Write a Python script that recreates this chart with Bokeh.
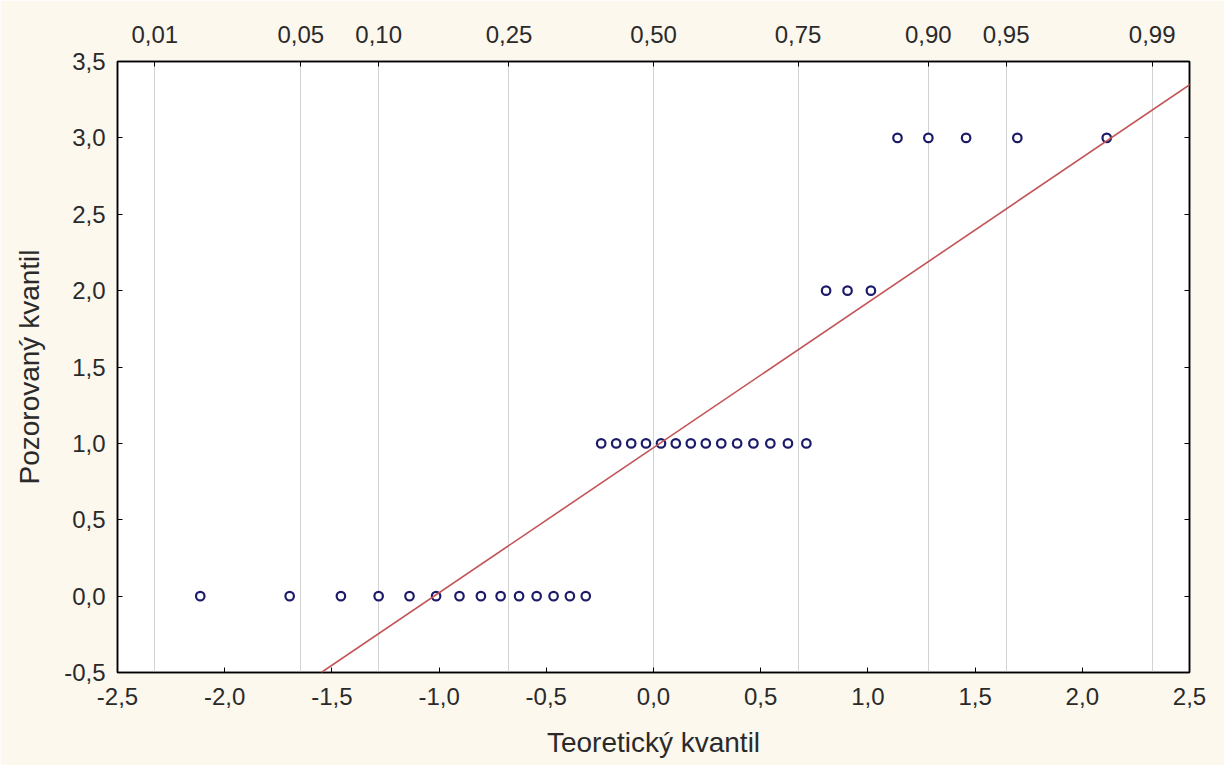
from bokeh.plotting import figure
from bokeh.models import (ColumnDataSource, LinearAxis, FixedTicker,
                          CustomJSTickFormatter, Slope, Range1d)
from bokeh.embed import file_html
from bokeh.resources import INLINE

# ---- data ----
theoretical = [-2.114, -1.697, -1.458, -1.282, -1.138, -1.014, -0.905, -0.805,
               -0.713, -0.627, -0.545, -0.466, -0.390, -0.316,
               -0.244, -0.174, -0.104, -0.035, 0.035, 0.104, 0.174, 0.244,
               0.316, 0.390, 0.466, 0.545, 0.627, 0.713,
               0.805, 0.905, 1.014,
               1.138, 1.282, 1.458, 1.697, 2.114]
observed = [0, 0, 0, 0, 0, 0, 0, 0, 0, 0, 0, 0, 0, 0,
            1, 1, 1, 1, 1, 1, 1, 1, 1, 1, 1, 1, 1, 1,
            2, 2, 2,
            3, 3, 3, 3, 3]

fit_intercept = 0.972
fit_slope = 0.95

x_ticks = [-2.5, -2.0, -1.5, -1.0, -0.5, 0.0, 0.5, 1.0, 1.5, 2.0, 2.5]
x_tick_labels = ["-2,5", "-2,0", "-1,5", "-1,0", "-0,5", "0,0", "0,5", "1,0", "1,5", "2,0", "2,5"]
y_ticks = [-0.5, 0.0, 0.5, 1.0, 1.5, 2.0, 2.5, 3.0, 3.5]
y_tick_labels = ["-0,5", "0,0", "0,5", "1,0", "1,5", "2,0", "2,5", "3,0", "3,5"]
prob_z = [-2.326, -1.645, -1.282, -0.674, 0.0, 0.674, 1.282, 1.645, 2.326]
prob_labels = ["0,01", "0,05", "0,10", "0,25", "0,50", "0,75", "0,90", "0,95", "0,99"]

FONT = "Liberation Sans"
TXT = "#2a2a2a"
BG = "#fcf8ee"

def lookup_formatter(tick_vals, tick_labels):
    return CustomJSTickFormatter(args=dict(tv=tick_vals, tl=tick_labels), code="""
        let best = 0, d = 1e9;
        for (let i = 0; i < tv.length; i++) {
            const e = Math.abs(tv[i] - tick);
            if (e < d) { d = e; best = i; }
        }
        return tl[best];
    """)

p = figure(width=1224, height=765,
           x_range=Range1d(-2.5, 2.5), y_range=Range1d(-0.5, 3.5),
           output_backend="svg", toolbar_location=None,
           min_border_left=117, min_border_right=35,
           min_border_top=61, min_border_bottom=93,
           background_fill_color="white", border_fill_color=BG,
           outline_line_color="black", outline_line_width=1.5)

def style_axis(ax):
    ax.axis_line_color = "black"
    ax.axis_line_width = 1.5
    ax.major_tick_in = 5
    ax.major_tick_out = 0
    ax.major_tick_line_color = "black"
    ax.major_tick_line_width = 1
    ax.minor_tick_line_color = None
    ax.major_label_text_font = FONT
    ax.major_label_text_font_size = "24px"
    ax.major_label_text_color = TXT
    ax.axis_label_text_font = FONT
    ax.axis_label_text_font_size = "28px"
    ax.axis_label_text_font_style = "normal"
    ax.axis_label_text_color = TXT

# bottom axis
xa = p.xaxis[0]
xa.ticker = FixedTicker(ticks=x_ticks)
xa.formatter = lookup_formatter(x_ticks, x_tick_labels)
xa.axis_label = "Teoretický kvantil"
style_axis(xa)
xa.major_label_standoff = 15
xa.axis_label_standoff = 19

# left axis
ya = p.yaxis[0]
ya.ticker = FixedTicker(ticks=y_ticks)
ya.formatter = lookup_formatter(y_ticks, y_tick_labels)
ya.axis_label = "Pozorovaný kvantil"
style_axis(ya)
ya.major_label_standoff = 12
ya.axis_label_standoff = 16

# top axis with probabilities
top = LinearAxis(ticker=FixedTicker(ticks=prob_z),
                 formatter=lookup_formatter(prob_z, prob_labels))
style_axis(top)
top.major_label_standoff = 19
p.add_layout(top, "above")

# right axis (ticks only)
right = LinearAxis(ticker=FixedTicker(ticks=y_ticks),
                   formatter=CustomJSTickFormatter(code="return '';"))
style_axis(right)
right.major_label_standoff = 0
p.add_layout(right, "right")

# grid: vertical lines at probability quantiles
p.xgrid.ticker = FixedTicker(ticks=prob_z)
p.xgrid.grid_line_color = "#d2d2d2"
p.xgrid.grid_line_width = 1
p.ygrid.visible = False

src = ColumnDataSource(dict(x=theoretical, y=observed))
p.scatter("x", "y", source=src, marker="circle", size=8.5,
          line_color="#1b1b6a", line_width=2.2, fill_color="white")

p.add_layout(Slope(gradient=fit_slope, y_intercept=fit_intercept,
                   line_color="#c25458", line_width=1.6))

html = file_html(p, INLINE)
open("out.html", "w").write(html)
